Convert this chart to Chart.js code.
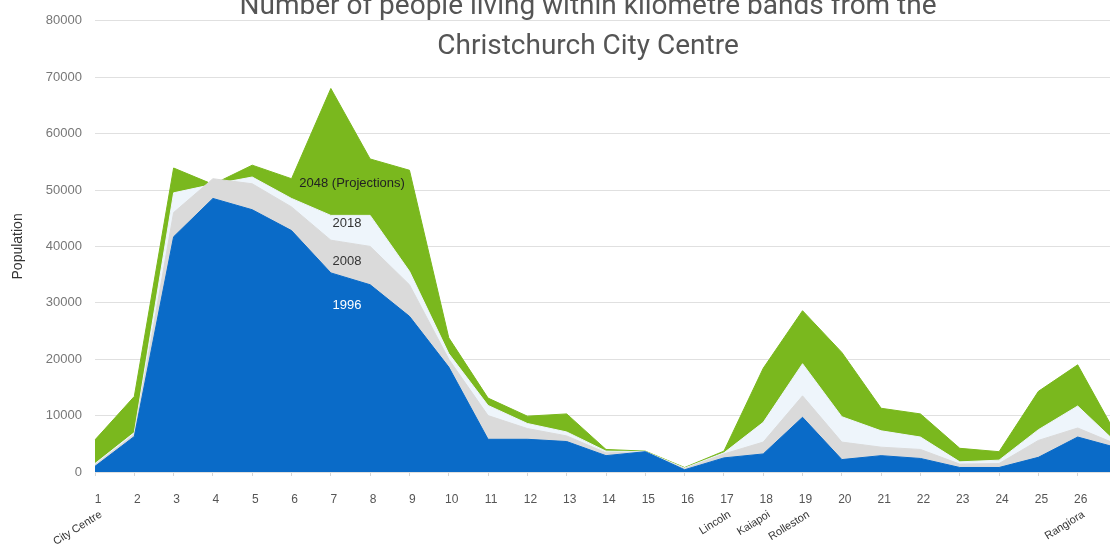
<!DOCTYPE html>
<html>
<head>
<meta charset="utf-8">
<title>Number of people living within kilometre bands from the Christchurch City Centre</title>
<script src="https://cdn.jsdelivr.net/npm/chart.js@4.4.1/dist/chart.umd.min.js"></script>
<style>
  html, body { margin: 0; padding: 0; background: #fff; overflow: hidden; }
  #wrap { position: relative; width: 1110px; height: 544px; overflow: hidden; }
  #chart { position: absolute; left: 0; top: 0; }
  #title {
    position: absolute; left: 0; top: -15px; width: 1176px;
    text-align: center; font: 28px/40px Roboto, sans-serif; color: #555;
  }
</style>
</head>
<body>
<div id="wrap">
  <canvas id="chart" width="1140" height="544"></canvas>
  <div id="title">Number of people living within kilometre bands from the<br>Christchurch City Centre</div>
</div>
<script>
// Kilometre bands from the city centre (band 27 is only partly visible on the right edge)
const bands = ['1', '2', '3', '4', '5', '6', '7', '8', '9', '10', '11', '12', '13', '14',
               '15', '16', '17', '18', '19', '20', '21', '22', '23', '24', '25', '26', '27'];

// Towns written under their band
const places = ['City Centre', '', '', '', '', '', '', '', '', '', '', '', '', '', '', '',
                'Lincoln', 'Kaiapoi', 'Rolleston', '', '', '', '', '', '', 'Rangiora', ''];

// Population per band (each series is a total, the areas overlap)
const pop1996 = [1000, 6300, 41700, 48500, 46500, 42800, 35300, 33200, 27600, 18600, 5800, 5800, 5400, 2900,
                 3600, 400, 2500, 3200, 9700, 2200, 2900, 2400, 800, 800, 2600, 6200, 4300];
const pop2008 = [1300, 6700, 46000, 52000, 51100, 47000, 41100, 40000, 33200, 20000, 10000, 7700, 6400, 3400,
                 3600, 600, 3200, 5300, 13500, 5300, 4400, 4000, 1400, 1500, 5600, 7800, 4900];
const pop2018 = [1500, 7000, 49500, 51000, 52300, 48500, 45500, 45500, 35600, 21000, 11800, 8600, 7100, 3700,
                 3600, 700, 3400, 8800, 19200, 9800, 7300, 6200, 1800, 2100, 7500, 11700, 5100];
const pop2048 = [5700, 13400, 53900, 51000, 54400, 52000, 68000, 55500, 53500, 23800, 13100, 9900, 10300, 4000,
                 3700, 800, 3700, 18400, 28600, 21200, 11300, 10300, 4200, 3600, 14300, 19000, 6400];

// Y axis
const yMax = 80000;
const yStep = 10000;

// Series names written inside the areas, placed in data units (band index, population)
const areaNames = ['2048 (Projections)', '2018', '2008', '1996'];
const areaNameBand = [6.54, 6.41, 6.41, 6.41];
const areaNamePop = [51100, 44000, 37300, 29600];
const areaNameColours = ['#222', '#333', '#333', '#fff'];

const tickFont = '"Liberation Sans", Arial, sans-serif';

// Names inside the areas
const areaNamesPlugin = {
    id: 'areaNames',
    afterDatasetsDraw(chart) {
        const { ctx, scales: { x, y } } = chart;
        ctx.save();
        ctx.font = '13px ' + tickFont;
        ctx.textAlign = 'center';
        ctx.textBaseline = 'middle';
        areaNames.forEach((name, i) => {
            ctx.fillStyle = areaNameColours[i];
            ctx.fillText(name, x.getPixelForValue(areaNameBand[i]), y.getPixelForValue(areaNamePop[i]));
        });
        ctx.restore();
    }
};

function area(label, data, colour) {
    return {
        label: label,
        data: data,
        fill: 'origin',
        backgroundColor: colour,
        borderColor: colour,
        borderWidth: 1,
        pointRadius: 0,
        tension: 0
    };
}

const ctx = document.getElementById('chart').getContext('2d');
const chart = new Chart(ctx, {
    type: 'line',
    data: {
        labels: bands,
        // first dataset is drawn on top
        datasets: [
            area('1996', pop1996, '#0a6bc8'),
            area('2008', pop2008, '#dadada'),
            area('2018', pop2018, '#eef5fb'),
            area('2048 (Projections)', pop2048, '#7ab81e')
        ]
    },
    options: {
        responsive: false,
        animation: false,
        layout: { padding: { top: 18, right: 23, left: 0, bottom: 0 } },
        plugins: {
            legend: { display: false },
            tooltip: { enabled: false }
        },
        scales: {
            x: {
                type: 'category',
                weight: 0,
                grid: { drawOnChartArea: false, drawTicks: true, tickLength: 4, color: '#d6d6d6' },
                border: { display: false },
                ticks: {
                    autoSkip: false,
                    maxRotation: 0,
                    padding: 16,
                    labelOffset: 3,
                    color: '#555',
                    font: { size: 12, family: tickFont }
                },
                afterFit: s => { s.height = 32; }
            },
            place: {
                type: 'category',
                position: 'bottom',
                labels: places,
                weight: 1,
                grid: { display: false },
                border: { display: false },
                ticks: {
                    autoSkip: false,
                    minRotation: 32,
                    maxRotation: 32,
                    padding: -4,
                    labelOffset: 6,
                    color: '#333',
                    font: { size: 11, family: tickFont }
                },
                afterFit: s => { s.height = 40; }
            },
            y: {
                min: 0,
                max: yMax,
                grid: { color: '#e0e0e0', drawTicks: false },
                border: { display: false },
                ticks: {
                    stepSize: yStep,
                    padding: 13,
                    color: '#777',
                    font: { size: 13, family: tickFont },
                    callback: v => String(v)
                },
                title: {
                    display: true,
                    text: 'Population',
                    color: '#333',
                    font: { size: 14, family: tickFont },
                    padding: { top: 10, bottom: 0 }
                },
                afterFit: s => { s.width = 95; }
            }
        }
    },
    plugins: [areaNamesPlugin]
});
</script>
</body>
</html>
